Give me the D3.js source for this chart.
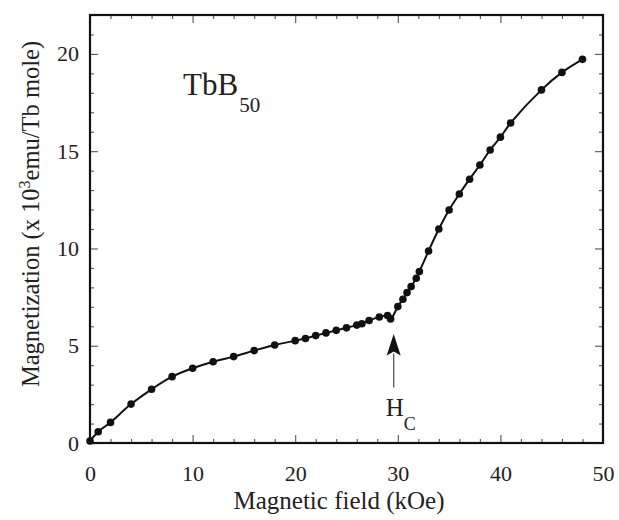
<!DOCTYPE html>
<html>
<head>
<meta charset="utf-8">
<script src="https://cdn.jsdelivr.net/npm/d3@7"></script>
<style>
  html, body { margin: 0; padding: 0; background: #fff; }
  svg { display: block; }
</style>
</head>
<body>
<svg id="chart" width="619" height="520"></svg>
<script>
// ---- data ----
const fieldKOe = [0, 0.8, 2, 4, 6, 8, 10, 12, 14, 16, 18, 20, 21, 22, 23, 24, 25, 26, 26.5, 27.2, 28.2, 29.0, 29.3,
  30.0, 30.5, 30.9, 31.3, 31.8, 32.1, 33, 34, 35, 36, 37, 38, 39, 40, 41, 44, 46, 48];
const magnetization = [0.1, 0.58, 1.06, 2.0, 2.76, 3.41, 3.84, 4.18, 4.44, 4.75, 5.04, 5.26, 5.37, 5.52, 5.66, 5.79, 5.92, 6.06, 6.13, 6.3, 6.48, 6.55, 6.38,
  7.01, 7.39, 7.73, 8.04, 8.47, 8.81, 9.87, 11.0, 11.98, 12.8, 13.56, 14.29, 15.06, 15.72, 16.45, 18.15, 19.05, 19.72];
const xTickLabels = [0, 10, 20, 30, 40, 50];
const yTickLabels = [0, 5, 10, 15, 20];
const xMinorTicks = d3.range(0, 50.01, 2);
const yMinorTicks = d3.range(0, 22.01, 1);
const hcField = 29.6;

const SERIF = "'Liberation Serif'";

// ---- layout ----
const svg = d3.select("#chart");
const L = 90, R = 603, T = 15, B = 443;
const x = d3.scaleLinear().domain([0, 50]).range([L, R]);
const y = d3.scaleLinear().domain([0, 22]).range([B, T]);

const tickStyle = g => g.selectAll("line").attr("stroke", "#555").attr("stroke-width", 1.1);

function ticksGroup(axisFn, scale, values, size, transform) {
  const g = svg.append("g").attr("transform", transform)
    .call(axisFn(scale).tickValues(values).tickSize(size).tickFormat(""));
  g.select(".domain").remove();
  g.call(tickStyle);
  return g;
}
ticksGroup(d3.axisTop, x, xMinorTicks.filter(v => v % 10 !== 0), 4, `translate(0,${B})`);
ticksGroup(d3.axisTop, x, xTickLabels, 8, `translate(0,${B})`);
ticksGroup(d3.axisBottom, x, xMinorTicks.filter(v => v % 10 !== 0), 4, `translate(0,${T})`);
ticksGroup(d3.axisBottom, x, xTickLabels, 8, `translate(0,${T})`);
ticksGroup(d3.axisRight, y, yMinorTicks.filter(v => v % 5 !== 0), 4, `translate(${L},0)`);
ticksGroup(d3.axisRight, y, yTickLabels, 8, `translate(${L},0)`);
ticksGroup(d3.axisLeft, y, yMinorTicks.filter(v => v % 5 !== 0), 4, `translate(${R},0)`);
ticksGroup(d3.axisLeft, y, yTickLabels, 8, `translate(${R},0)`);

const styleText = sel => sel.style("font-family", SERIF).style("fill", "#222");

const xLab = svg.append("g").attr("transform", `translate(0,${B})`)
  .call(d3.axisBottom(x).tickValues(xTickLabels).tickSize(0).tickPadding(22).tickFormat(d3.format("d")));
xLab.select(".domain").remove();
xLab.attr("font-family", "Liberation Serif");
xLab.selectAll("text").attr("font-size", 22).call(styleText);

const yLab = svg.append("g").attr("transform", `translate(${L},0)`)
  .call(d3.axisLeft(y).tickValues(yTickLabels).tickSize(0).tickPadding(11).tickFormat(d3.format("d")));
yLab.select(".domain").remove();
yLab.attr("font-family", "Liberation Serif");
yLab.selectAll("text").attr("font-size", 22).call(styleText);

// frame
svg.append("rect").attr("x", L).attr("y", T).attr("width", R - L).attr("height", B - T)
  .attr("fill", "none").attr("stroke", "#111").attr("stroke-width", 2.2);

// data line + points
const pts = fieldKOe.map((f, i) => [f, magnetization[i]]);
svg.append("path").datum(pts)
  .attr("fill", "none").attr("stroke", "#111").attr("stroke-width", 2)
  .attr("d", d3.line().x(d => x(d[0])).y(d => y(d[1])).curve(d3.curveCatmullRom.alpha(0.5)));
svg.append("g").selectAll("circle").data(pts).join("circle")
  .attr("cx", d => x(d[0])).attr("cy", d => y(d[1])).attr("r", 3.8).attr("fill", "#111");

// axis titles
svg.append("text").attr("x", 339).attr("y", 509).attr("text-anchor", "middle")
  .attr("font-size", 25).call(styleText).text("Magnetic field (kOe)");

const yt = svg.append("text").attr("transform", "translate(39,214) rotate(-90)")
  .attr("text-anchor", "middle").attr("font-size", 24.5).call(styleText);
yt.append("tspan").text("Magnetization (x 10");
yt.append("tspan").attr("font-size", 16).attr("dy", -9).text("3");
yt.append("tspan").attr("dy", 9).text("emu/Tb mole)");

// compound label
const lab = svg.append("text").attr("x", 183).attr("y", 95).attr("font-size", 31).call(styleText);
lab.append("tspan").text("TbB");
lab.append("tspan").attr("font-size", 21).attr("dy", 17).attr("dx", 1).text("50");

// Hc annotation arrow
const ax = x(hcField);
svg.append("line").attr("x1", ax).attr("x2", ax).attr("y1", y(2.85)).attr("y2", y(4.6))
  .attr("stroke", "#555").attr("stroke-width", 1.3);
const tipY = y(5.6), baseY = y(4.5);
svg.append("path")
  .attr("d", `M${ax},${tipY} L${ax + 7},${baseY} L${ax},${baseY - 4} L${ax - 7},${baseY} Z`)
  .attr("fill", "#111");
const hc = svg.append("text").attr("x", ax - 8).attr("y", 416).attr("font-size", 25).call(styleText);
hc.append("tspan").text("H");
hc.append("tspan").attr("font-size", 18).attr("dy", 14).text("C");
</script>
</body>
</html>
